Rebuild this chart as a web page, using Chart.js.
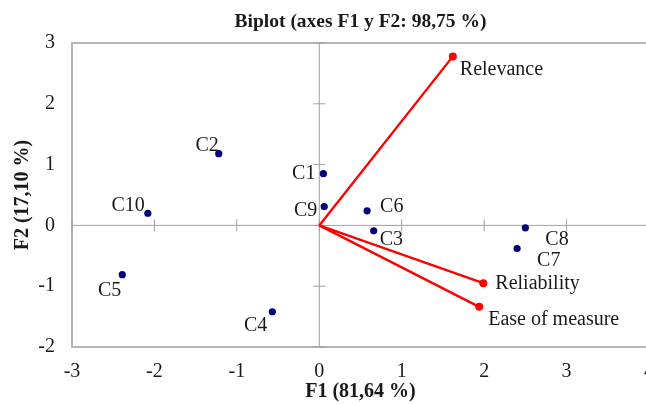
<!DOCTYPE html>
<html>
<head>
<meta charset="utf-8">
<script src="https://cdn.jsdelivr.net/npm/chart.js@4.4.1/dist/chart.umd.min.js"></script>
<style>
  html, body { margin: 0; padding: 0; background: #fff; overflow: hidden; }
  #wrap { width: 667px; height: 404px; }
</style>
</head>
<body>
<div id="wrap"><canvas id="biplot" width="667" height="404"></canvas></div>
<script>
// observations (F1, F2 scores)
const obsLabels = ['C1', 'C2', 'C3', 'C4', 'C5', 'C6', 'C7', 'C8', 'C9', 'C10'];
const obsF1 = [0.05, -1.22, 0.66, -0.57, -2.39, 0.58, 2.40, 2.50, 0.06, -2.08];
const obsF2 = [0.85, 1.18, -0.09, -1.42, -0.81, 0.24, -0.38, -0.04, 0.31, 0.20];

// variables (loading vectors)
const varLabels = ['Relevance', 'Reliability', 'Ease of measure'];
const varF1 = [1.62, 1.99, 1.94];
const varF2 = [2.78, -0.95, -1.34];

// axis ticks
const xTicks = [-3, -2, -1, 0, 1, 2, 3, 4];
const yTicks = [-2, -1, 0, 1, 2, 3];

// label placement (pixels from the marker)
const obsLabelPos = [
  ['right', -8, 0], ['right', 0, -8], ['left', 6, 9], ['right', -5, 14], ['right', -1, 16],
  ['left', 13, -4], ['left', 20, 12], ['left', 20, 12], ['right', -7, 4], ['right', -3, -7]
];
const varLabelPos = [['left', 7, 13], ['left', 12, 1], ['left', 9, 13]];

const FONT = "'Liberation Serif', 'Times New Roman', serif";

const vectorSets = varLabels.map((name, i) => ({
  label: name,
  data: [{ x: 0, y: 0 }, { x: varF1[i], y: varF2[i] }],
  showLine: true,
  borderColor: '#ff0000',
  borderWidth: 2.4,
  pointRadius: [0, 4],
  pointBackgroundColor: '#ff0000',
  pointBorderWidth: 0
}));

const frameAndAxes = {
  id: 'frameAndAxes',
  beforeDatasetsDraw(chart) {
    const { ctx, chartArea: a, scales: { x, y } } = chart;
    ctx.save();
    // outer frame
    ctx.strokeStyle = '#a3a3a3';
    ctx.lineWidth = 1.6;
    ctx.strokeRect(a.left, a.top, a.right - a.left, a.bottom - a.top);
    // zero axes with cross ticks
    const x0 = x.getPixelForValue(0), y0 = y.getPixelForValue(0);
    ctx.strokeStyle = '#a0a0a0';
    ctx.lineWidth = 1;
    ctx.beginPath();
    ctx.moveTo(a.left, y0); ctx.lineTo(a.right, y0);
    ctx.moveTo(x0, a.top); ctx.lineTo(x0, a.bottom);
    xTicks.forEach(v => {
      const px = x.getPixelForValue(v);
      ctx.moveTo(px, y0 - 6); ctx.lineTo(px, y0 + 6);
    });
    yTicks.forEach(v => {
      const py = y.getPixelForValue(v);
      ctx.moveTo(x0 - 6, py); ctx.lineTo(x0 + 6, py);
    });
    ctx.stroke();
    ctx.restore();
  },
  afterDatasetsDraw(chart) {
    const { ctx, scales: { x, y } } = chart;
    ctx.save();
    ctx.font = '20px ' + FONT;
    ctx.fillStyle = '#1a1a1a';
    ctx.textBaseline = 'middle';
    const put = (txt, vx, vy, pos) => {
      ctx.textAlign = pos[0];
      ctx.fillText(txt, x.getPixelForValue(vx) + pos[1], y.getPixelForValue(vy) + pos[2]);
    };
    obsLabels.forEach((t, i) => put(t, obsF1[i], obsF2[i], obsLabelPos[i]));
    varLabels.forEach((t, i) => put(t, varF1[i], varF2[i], varLabelPos[i]));
    ctx.restore();
  }
};

new Chart(document.getElementById('biplot'), {
  type: 'scatter',
  data: {
    datasets: [{
      label: 'Observations',
      data: obsF1.map((v, i) => ({ x: v, y: obsF2[i] })),
      backgroundColor: '#000080',
      borderWidth: 0,
      pointRadius: 3.6
    }, ...vectorSets]
  },
  options: {
    responsive: false,
    animation: false,
    layout: { padding: 0 },
    plugins: {
      legend: { display: false },
      tooltip: { enabled: false },
      title: {
        display: true,
        text: 'Biplot (axes F1 y F2: 98,75 %)',
        fullSize: false,
        color: '#1a1a1a',
        font: { family: FONT, size: 19.5, weight: 'bold' },
        padding: { top: 10, bottom: 9.6 }
      }
    },
    scales: {
      x: {
        type: 'linear',
        min: xTicks[0],
        max: xTicks[xTicks.length - 1],
        afterBuildTicks: s => { s.ticks = xTicks.map(v => ({ value: v })); },
        afterFit: s => { s.height = 57; },
        grid: { display: false, drawTicks: false },
        border: { display: false },
        ticks: { color: '#1a1a1a', padding: 13, font: { family: FONT, size: 20 } },
        title: {
          display: true,
          text: 'F1 (81,64 %)',
          color: '#1a1a1a',
          font: { family: FONT, size: 20, weight: 'bold' },
          padding: { top: 0, bottom: 0 }
        }
      },
      y: {
        type: 'linear',
        min: yTicks[0],
        max: yTicks[yTicks.length - 1],
        afterBuildTicks: s => { s.ticks = yTicks.map(v => ({ value: v })); },
        afterFit: s => { s.width = 72; },
        grid: { display: false, drawTicks: false },
        border: { display: false },
        ticks: { color: '#1a1a1a', padding: 17, font: { family: FONT, size: 20 } },
        title: {
          display: true,
          text: 'F2 (17,10 %)',
          color: '#1a1a1a',
          font: { family: FONT, size: 20, weight: 'bold' },
          padding: { top: 11, bottom: 0 }
        }
      }
    }
  },
  plugins: [frameAndAxes]
});
</script>
</body>
</html>
